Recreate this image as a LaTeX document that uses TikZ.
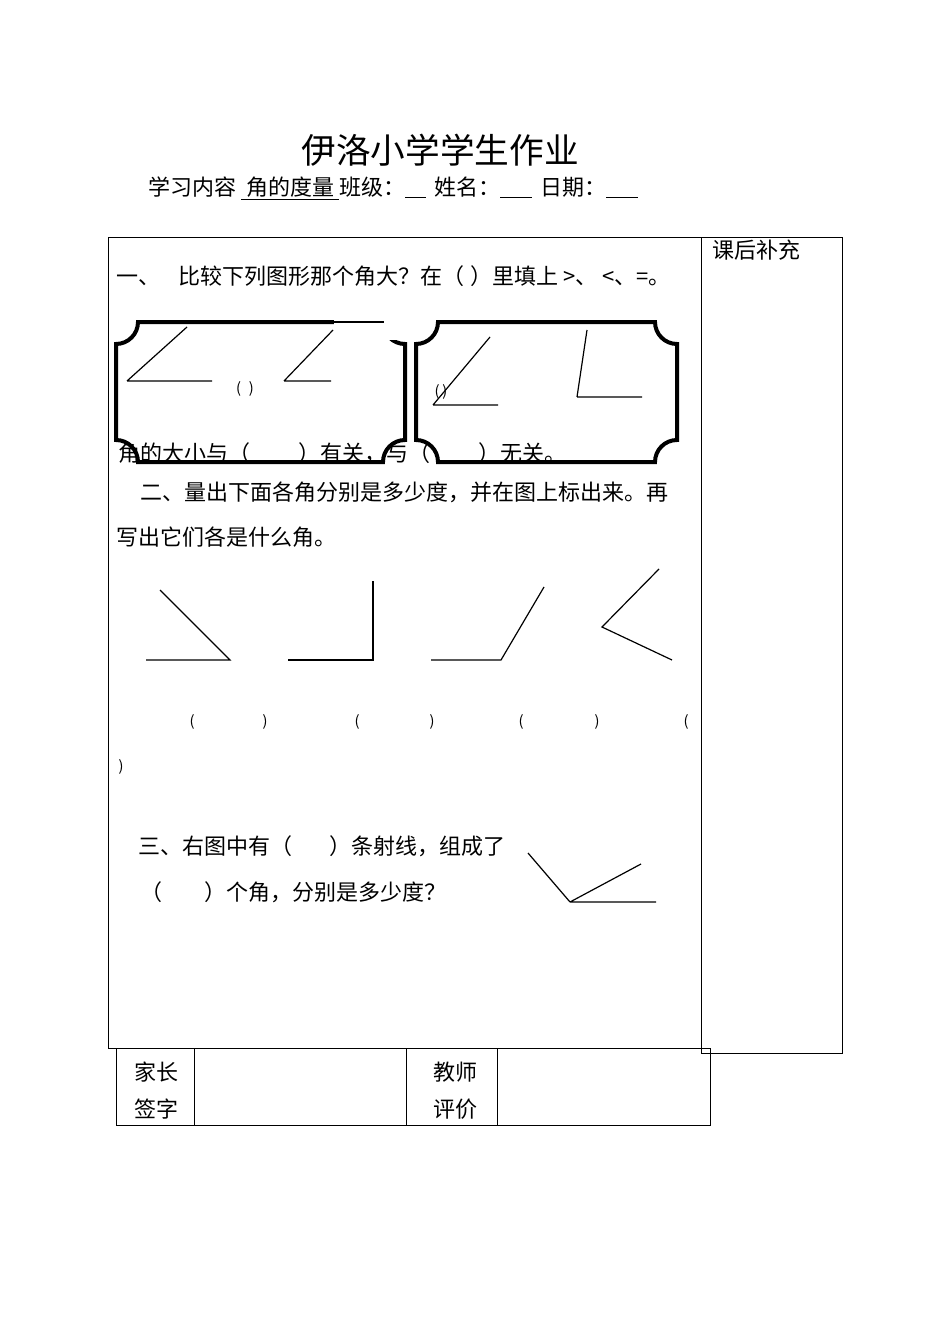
\documentclass[tikz,border=0pt]{standalone}
\usepackage{fontspec}
\setmainfont{Noto Sans CJK SC}
\newcommand{\gp}[1]{\hspace*{#1}}
\newcommand{\blank}[1]{\underline{\hspace*{#1}}}
\begin{document}
\begin{tikzpicture}[x=0.75pt,y=-0.75pt,
  txt/.style={anchor=west,inner sep=0pt,font=\fontsize{16.5}{18}\selectfont},
  ln/.style={line width=0.9pt},
  frame/.style={line width=3pt},
  box/.style={line width=0.6pt}]
\useasboundingbox (0,0) rectangle (950,1344);
\newcommand{\ticket}[4]{%
  \draw[frame] ({#1+22},#2) -- ({#3-22},#2) arc[start angle=180,end angle=90,radius=22] -- ({#3},{#4-22}) arc[start angle=270,end angle=180,radius=22] -- ({#1+22},#4) arc[start angle=0,end angle=-90,radius=22] -- ({#1},{#2+22}) arc[start angle=90,end angle=0,radius=22] -- cycle;}
\node[font=\fontsize{26}{30}\selectfont] (title) at (440,150) {伊洛小学学生作业};
\node[txt] (hdr) at (148,188) {学习内容 \underline{ 角的度量 }班级：\blank{16pt}\gp{6pt}姓名：\blank{24pt}\gp{6pt}日期：\blank{24pt}};
\draw[box] (701,1048) -- (108,1048) -- (108,237) -- (701,237);
\draw[box] (701,237) rectangle (842,1053);
\node[txt] (extra) at (712,250) {课后补充};
\node[txt] (q1) at (116,276) {一、\gp{14pt}比较下列图形那个角大？在（\gp{4pt}）里填上 >、 <、=。};
\ticket{116}{322}{405}{462}
\fill[white] (334,314) rectangle (412,340);
\draw[ln] (334,322) -- (384,322);
\ticket{416}{322}{677}{462}
\draw[ln] (127,381) -- (212,381) (127,381) -- (187,327);
\draw[ln] (284,381) -- (331,381) (284,381) -- (333,330);
\node[font=\fontsize{11}{12}\selectfont] (p1) at (245,389) {(\gp{6pt})};
\draw[ln] (433,405) -- (498,405) (433,405) -- (490,337);
\node[font=\fontsize{11}{12}\selectfont] (p2) at (441,392) {(\gp{2pt})};
\draw[ln] (577,397) -- (642,397) (577,397) -- (587,330);
\node[txt] (rel) at (118,453) {角的大小与（\gp{36pt}）有关，与（\gp{36pt}）无关。};
\node[txt] (q2a) at (140,492) {二、量出下面各角分别是多少度，并在图上标出来。再};
\node[txt] (q2b) at (116,537) {写出它们各是什么角。};
\draw[ln] (146,660) -- (230,660) -- (160,590);
\draw[ln] (288,660) -- (373,660) -- (373,581);
\draw[ln] (431,660) -- (501,660) -- (544,587);
\draw[ln] (659,569) -- (602,627) -- (672,660);
\foreach \a/\b in {192/265,357/432,521/597}{\node[font=\fontsize{11}{12}\selectfont] at (\a,722) {(}; \node[font=\fontsize{11}{12}\selectfont] at (\b,722) {)};}
\node[font=\fontsize{11}{12}\selectfont] (p3) at (686,722) {(};
\node[font=\fontsize{11}{12}\selectfont] (p4) at (121,767) {)};
\node[txt] (q3a) at (138,846) {三、右图中有（\gp{28pt}）条射线，组成了};
\node[txt] (q3b) at (140,892) {（\gp{32pt}）个角，分别是多少度？};
\coordinate (o) at (570,902);
\draw[ln] (o) -- (656,902) (o) -- (528,853) (o) -- (641,864);
\draw[box] (116,1048) rectangle (710,1125);
\draw[box] (194,1048) -- (194,1125) (406,1048) -- (406,1125) (497,1048) -- (497,1125);
\node[txt] (t1) at (134,1072) {家长};
\node[txt] (t2) at (134,1109) {签字};
\node[txt] (t3) at (433,1072) {教师};
\node[txt] (t4) at (433,1109) {评价};
\end{tikzpicture}
\end{document}
